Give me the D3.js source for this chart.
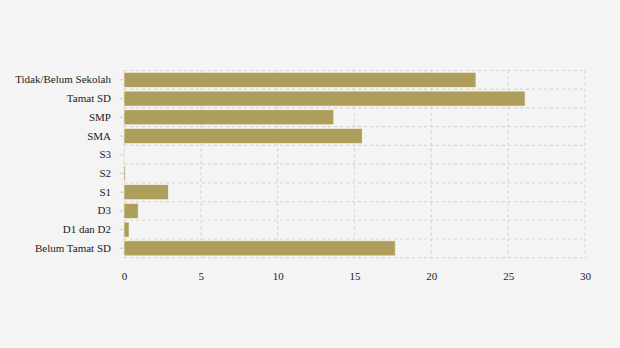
<!DOCTYPE html>
<html>
<head>
<meta charset="utf-8">
<script src="https://cdn.jsdelivr.net/npm/d3@7"></script>
<style>
  html, body { margin: 0; padding: 0; background: #f4f4f4; }
  svg { display: block; }
  svg text { font-family: "Times New Roman", "Liberation Serif", "DejaVu Serif", serif !important; }
</style>
</head>
<body>
<svg id="chart" width="620" height="348"></svg>
<script>
// Education level categories (top to bottom) and their percentages
const categories = [
  "Tidak/Belum Sekolah", "Tamat SD", "SMP", "SMA", "S3",
  "S2", "S1", "D3", "D1 dan D2", "Belum Tamat SD"
];
const values = [22.9, 26.1, 13.65, 15.5, 0.02, 0.08, 2.88, 0.92, 0.33, 17.65];
const xTicks = [0, 5, 10, 15, 20, 25, 30];

const svg = d3.select("#chart");
const margin = { left: 124, right: 35, top: 70.5, bottom: 90.3 };
const W = 620, H = 348;
const FONT = "'Times New Roman', 'Liberation Serif', 'DejaVu Serif', serif";

svg.append("rect").attr("width", W).attr("height", H).attr("fill", "#f4f4f4");

const x = d3.scaleLinear().domain([0, 30]).range([margin.left, W - margin.right]);
const y = d3.scaleBand().domain(categories).range([margin.top, H - margin.bottom]).paddingInner(0.2).paddingOuter(0.1);

const grid = svg.append("g")
  .attr("stroke", "#d6d6d6").attr("stroke-width", 1.2).attr("stroke-dasharray", "3,3").attr("fill", "none");

// vertical grid lines at the x ticks
grid.selectAll("line.v").data(xTicks).join("line")
  .attr("class", "v")
  .attr("x1", d => x(d)).attr("x2", d => x(d))
  .attr("y1", margin.top).attr("y2", H - margin.bottom);

// horizontal grid lines at category band edges
const step = y.step();
const edges = d3.range(categories.length + 1).map(i => margin.top + i * step);
grid.selectAll("line.h").data(edges).join("line")
  .attr("class", "h")
  .attr("x1", margin.left).attr("x2", W - margin.right)
  .attr("y1", d => d).attr("y2", d => d);

// bars
svg.append("g").selectAll("rect").data(categories).join("rect")
  .attr("x", x(0))
  .attr("y", d => y(d))
  .attr("width", (d, i) => x(values[i]) - x(0))
  .attr("height", y.bandwidth())
  .attr("fill", "#ad9f5b")
  .attr("stroke", "#f7f4e8")
  .attr("stroke-width", 0.6);

// y axis: labels with short dashed ticks
const yAxis = d3.axisLeft(y).tickSize(6).tickPadding(6).tickSizeOuter(0);
const gy = svg.append("g").attr("transform", `translate(${margin.left - 1},0)`).call(yAxis)
  .attr("font-family", FONT).attr("font-size", 11);
gy.select(".domain").remove();
gy.selectAll(".tick line").attr("stroke", "#d0d0d0").attr("stroke-width", 1.2).attr("stroke-dasharray", "3,2");
gy.selectAll(".tick text").attr("fill", "#222");

// x axis labels
const xAxis = d3.axisBottom(x).tickValues(xTicks).tickSize(0).tickPadding(15).tickFormat(d3.format("d"));
const gx = svg.append("g").attr("transform", `translate(0,${H - margin.bottom})`).call(xAxis)
  .attr("font-family", FONT).attr("font-size", 11);
gx.select(".domain").remove();
gx.selectAll(".tick text").attr("fill", "#222");
</script>
</body>
</html>
